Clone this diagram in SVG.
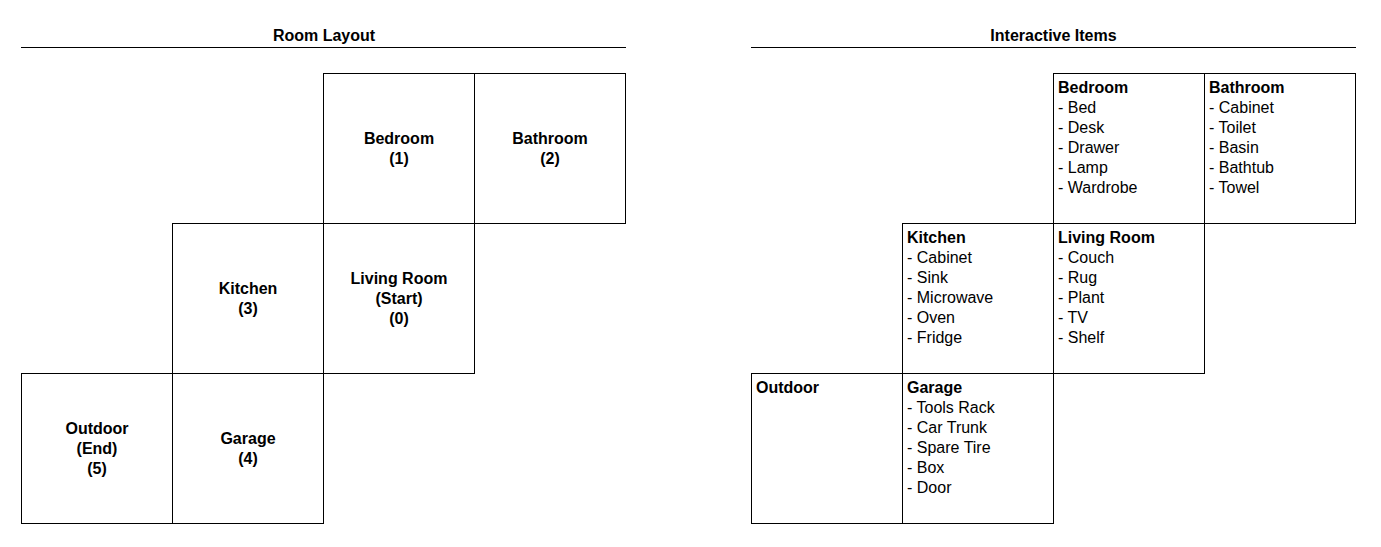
<svg xmlns="http://www.w3.org/2000/svg" width="1381" height="547" viewBox="0 0 1381 547">
<style>
text{font-family:"Liberation Sans",Arial,sans-serif;font-size:16px;fill:#000}
.b{font-weight:bold}
.c{text-anchor:middle}
rect{fill:#fff;stroke:#000;stroke-width:1}
line{stroke:#000;stroke-width:1}
</style>
<rect x="0" y="0" width="1381" height="547" style="fill:#fff;stroke:none"/>
<g id="title-left">
<text class="b c" x="324" y="41">Room Layout</text>
<line x1="21" y1="47.5" x2="626" y2="47.5"/>
</g>
<g id="title-right">
<text class="b c" x="1053.5" y="41">Interactive Items</text>
<line x1="751" y1="47.5" x2="1356" y2="47.5"/>
</g>
<g id="room-bedroom"><rect x="323.5" y="73.5" width="151" height="150"/><text class="b c" x="399" y="143.5">Bedroom<tspan x="399" dy="20">(1)</tspan></text></g>
<g id="room-bathroom"><rect x="474.5" y="73.5" width="151" height="150"/><text class="b c" x="550" y="143.5">Bathroom<tspan x="550" dy="20">(2)</tspan></text></g>
<g id="room-kitchen"><rect x="172.5" y="223.5" width="151" height="150"/><text class="b c" x="248" y="293.5">Kitchen<tspan x="248" dy="20">(3)</tspan></text></g>
<g id="room-living"><rect x="323.5" y="223.5" width="151" height="150"/><text class="b c" x="399" y="283.5">Living Room<tspan x="399" dy="20">(Start)</tspan><tspan x="399" dy="20">(0)</tspan></text></g>
<g id="room-outdoor"><rect x="21.5" y="373.5" width="151" height="150"/><text class="b c" x="97" y="433.5">Outdoor<tspan x="97" dy="20">(End)</tspan><tspan x="97" dy="20">(5)</tspan></text></g>
<g id="room-garage"><rect x="172.5" y="373.5" width="151" height="150"/><text class="b c" x="248" y="443.5">Garage<tspan x="248" dy="20">(4)</tspan></text></g>

<g id="items-bedroom"><rect x="1053.5" y="73.5" width="151" height="150"/><text x="1058" y="92.5"><tspan class="b">Bedroom</tspan><tspan x="1058" dy="20">- Bed</tspan><tspan x="1058" dy="20">- Desk</tspan><tspan x="1058" dy="20">- Drawer</tspan><tspan x="1058" dy="20">- Lamp</tspan><tspan x="1058" dy="20">- Wardrobe</tspan></text></g>
<g id="items-bathroom"><rect x="1204.5" y="73.5" width="151" height="150"/><text x="1209" y="92.5"><tspan class="b">Bathroom</tspan><tspan x="1209" dy="20">- Cabinet</tspan><tspan x="1209" dy="20">- Toilet</tspan><tspan x="1209" dy="20">- Basin</tspan><tspan x="1209" dy="20">- Bathtub</tspan><tspan x="1209" dy="20">- Towel</tspan></text></g>
<g id="items-kitchen"><rect x="902.5" y="223.5" width="151" height="150"/><text x="907" y="242.5"><tspan class="b">Kitchen</tspan><tspan x="907" dy="20">- Cabinet</tspan><tspan x="907" dy="20">- Sink</tspan><tspan x="907" dy="20">- Microwave</tspan><tspan x="907" dy="20">- Oven</tspan><tspan x="907" dy="20">- Fridge</tspan></text></g>
<g id="items-living"><rect x="1053.5" y="223.5" width="151" height="150"/><text x="1058" y="242.5"><tspan class="b">Living Room</tspan><tspan x="1058" dy="20">- Couch</tspan><tspan x="1058" dy="20">- Rug</tspan><tspan x="1058" dy="20">- Plant</tspan><tspan x="1058" dy="20">- TV</tspan><tspan x="1058" dy="20">- Shelf</tspan></text></g>
<g id="items-outdoor"><rect x="751.5" y="373.5" width="151" height="150"/><text class="b" x="756" y="392.5">Outdoor</text></g>
<g id="items-garage"><rect x="902.5" y="373.5" width="151" height="150"/><text x="907" y="392.5"><tspan class="b">Garage</tspan><tspan x="907" dy="20">- Tools Rack</tspan><tspan x="907" dy="20">- Car Trunk</tspan><tspan x="907" dy="20">- Spare Tire</tspan><tspan x="907" dy="20">- Box</tspan><tspan x="907" dy="20">- Door</tspan></text></g>
<g id="connectors"></g>
</svg>
